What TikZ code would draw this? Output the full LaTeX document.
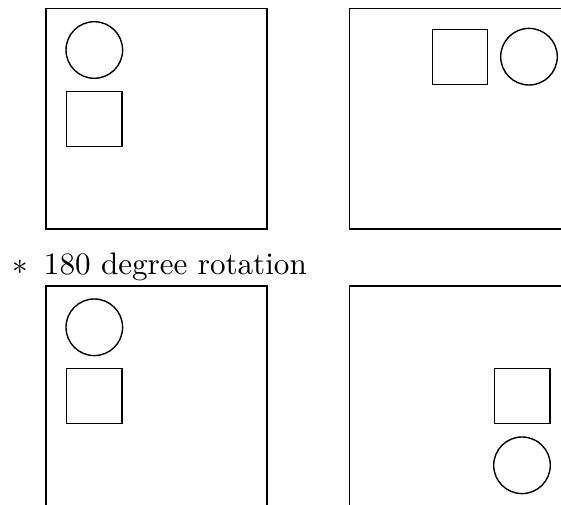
\documentclass[tikz,border=0pt]{standalone}
\begin{document}
\begin{tikzpicture}[x=0.3215pt,y=-0.3215pt,line width=0.45pt,
  shapeline/.style={draw=black},
  lbl/.style={inner sep=0pt,anchor=base west}]
\useasboundingbox (0,0) rectangle (561,505);
\clip (0,0) rectangle (561,505);
% top-left panel
\draw[shapeline] (46,8.7) rectangle (267,229);
\draw[shapeline] (94.3,50) circle[radius=28.3];
\draw[shapeline] (66.7,91.3) rectangle (122,146.7);
% top-right panel
\draw[shapeline] (349.3,8.7) rectangle (620,229);
\draw[shapeline] (432.7,29.3) rectangle (487.7,84.3);
\draw[shapeline] (529,56.7) circle[radius=28.3];
% caption
\node[lbl] (star) at (11.4,274.3) {$\ast$};
\node[lbl] (cap) at (43.3,274.3) {180 degree rotation};
% bottom-left panel
\draw[shapeline] (46,286) rectangle (267,560);
\draw[shapeline] (94.3,327.3) circle[radius=28.3];
\draw[shapeline] (66.7,368.3) rectangle (122,423.7);
% bottom-right panel
\draw[shapeline] (349.3,286) rectangle (620,560);
\draw[shapeline] (494.3,368.3) rectangle (550,423.7);
\draw[shapeline] (522,465.3) circle[radius=28.3];
\end{tikzpicture}
\end{document}
